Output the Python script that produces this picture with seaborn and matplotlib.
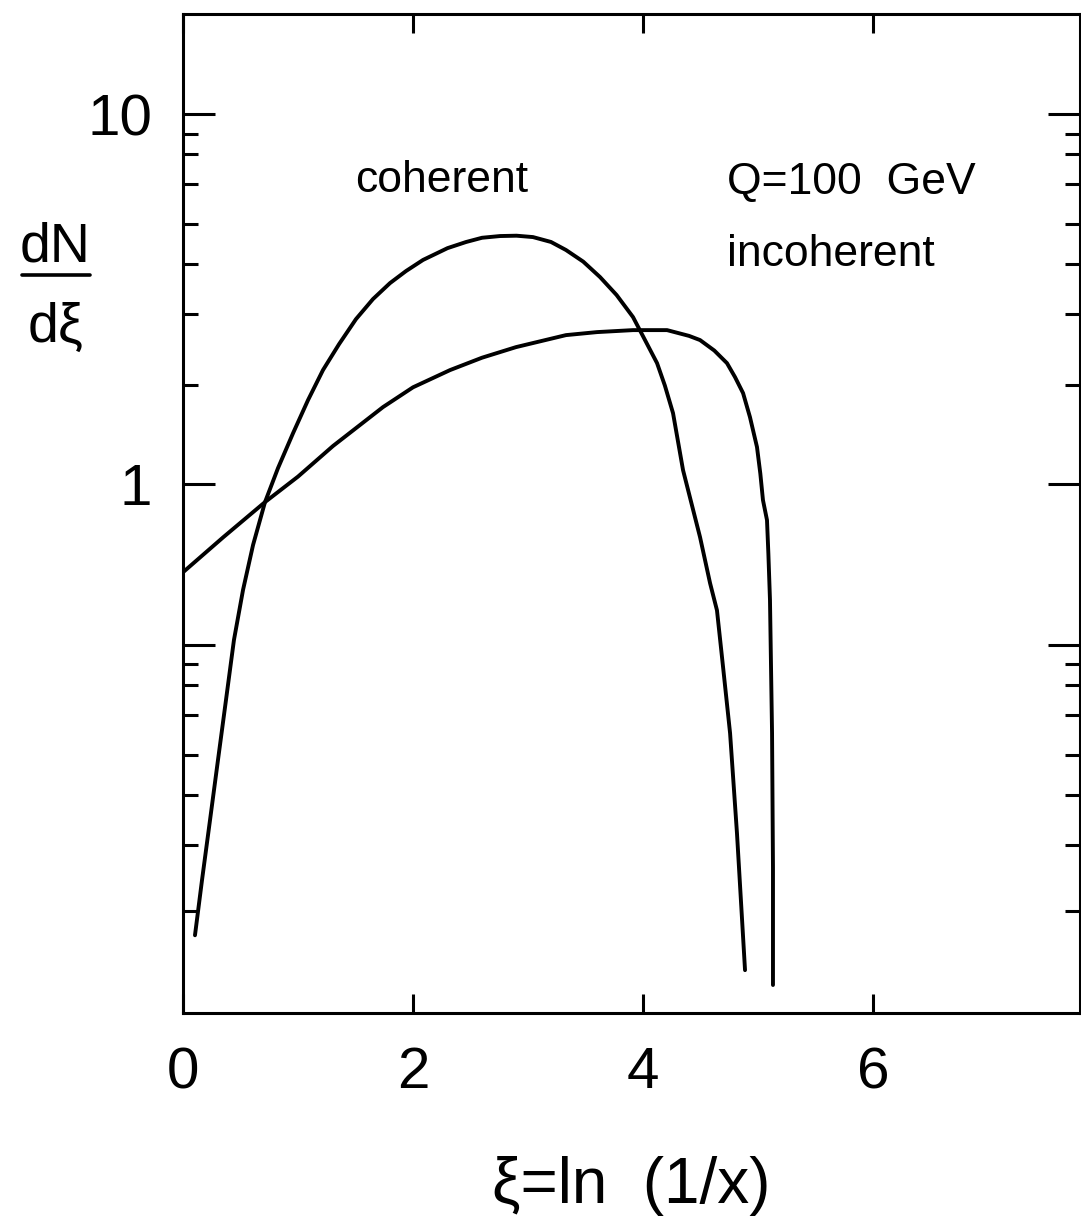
import numpy as np
import pandas as pd
import matplotlib
matplotlib.use("Agg")
import matplotlib.pyplot as plt
from matplotlib.lines import Line2D
import seaborn as sns

# coherent (hump) curve
coh_xi = [0.104, 0.165, 0.235, 0.304, 0.374, 0.443, 0.522, 0.609, 0.713, 0.826, 0.957,
          1.087, 1.217, 1.357, 1.504, 1.652, 1.800, 1.939, 2.087, 2.300, 2.461, 2.600,
          2.757, 2.900, 3.043, 3.200, 3.330, 3.480, 3.626, 3.770, 3.913, 4.122, 4.190,
          4.261, 4.348, 4.496, 4.583, 4.643, 4.696, 4.757, 4.817, 4.887]
coh_dn = [0.0605, 0.0852, 0.124, 0.180, 0.262, 0.380, 0.519, 0.686, 0.896, 1.107, 1.376,
          1.690, 2.037, 2.394, 2.797, 3.169, 3.500, 3.772, 4.042, 4.35, 4.519, 4.64,
          4.690, 4.70, 4.660, 4.52, 4.300, 4.00, 3.634, 3.25, 2.833, 2.127, 1.85,
          1.558, 1.093, 0.720, 0.541, 0.457, 0.321, 0.2127, 0.1141, 0.0487]

# incoherent (flat-top) curve
inc_xi = [0.0, 0.350, 0.713, 1.000, 1.304, 1.739, 2.000, 2.322, 2.600, 2.896, 3.330,
          3.600, 3.913, 4.209, 4.400, 4.496, 4.620, 4.730, 4.800, 4.870, 4.930, 4.991,
          5.020, 5.043, 5.078, 5.090, 5.104, 5.122, 5.130, 5.130]
inc_dn = [0.579, 0.72, 0.896, 1.05, 1.27, 1.618, 1.83, 2.037, 2.20, 2.350, 2.532,
          2.58, 2.612, 2.612, 2.52, 2.455, 2.30, 2.127, 1.95, 1.765, 1.52, 1.262,
          1.07, 0.907, 0.801, 0.65, 0.487, 0.2127, 0.0924, 0.0444]

x_ticks = [0, 2, 4, 6]
y_major = [10, 1, 0.369]
y_labels = ["10", "1", ""]
y_minor = [8.83, 7.80, 6.47, 5.04, 3.93, 2.88, 1.86,
           0.3265, 0.287, 0.2376, 0.1861, 0.1452, 0.1064, 0.0705]

sns.set_theme(style="ticks")
plt.rcParams["font.family"] = ["Liberation Sans", "DejaVu Sans"]
plt.rcParams["text.color"] = "black"
plt.rcParams["axes.labelcolor"] = "black"
plt.rcParams["xtick.color"] = "black"
plt.rcParams["ytick.color"] = "black"

fig = plt.figure(figsize=(10.81, 12.18), dpi=100)
ax = fig.add_axes([0.1693, 0.1683, 0.8298, 0.8202])

df_coh = pd.DataFrame({"xi": coh_xi, "dn": coh_dn})
df_inc = pd.DataFrame({"xi": inc_xi, "dn": inc_dn})
sns.lineplot(data=df_coh, x="xi", y="dn", ax=ax, color="black", linewidth=2.8,
             estimator=None, sort=False)
sns.lineplot(data=df_inc, x="xi", y="dn", ax=ax, color="black", linewidth=2.8,
             estimator=None, sort=False)

ax.set_yscale("log")
ax.set_xlim(0, 7.8)
ax.set_ylim(0.0373, 18.67)

ax.set_xticks(x_ticks)
ax.set_xticklabels([str(t) for t in x_ticks])
ax.set_yticks(y_major)
ax.set_yticklabels(y_labels)
ax.set_yticks(y_minor, minor=True)
ax.yaxis.set_minor_formatter(matplotlib.ticker.NullFormatter())
ax.xaxis.set_minor_locator(matplotlib.ticker.NullLocator())

for s in ax.spines.values():
    s.set_linewidth(2.2)
    s.set_color("black")

ax.tick_params(axis="x", which="major", direction="in", top=True, bottom=True,
               length=14, width=2.2, labelsize=42, pad=24, colors="black")
ax.tick_params(axis="y", which="major", direction="in", left=True, right=True,
               length=23, width=2.2, labelsize=42, pad=22, colors="black")
ax.tick_params(axis="y", which="minor", direction="in", left=True, right=True,
               length=11, width=2.2, colors="black")

ax.set_xlabel("ξ=ln  (1/x)", fontsize=46, labelpad=40, color="black")
ax.set_ylabel("")

ax.text(1.496, 6.64, "coherent", fontsize=32, va="center", ha="left", color="black")
ax.text(4.73, 6.56, "Q=100  GeV", fontsize=32, va="center", ha="left", color="black")
ax.text(4.73, 4.17, "incoherent", fontsize=32, va="center", ha="left", color="black")

# dN/dξ label as a stacked fraction
fig.text(0.0509, 0.7849, "dN", fontsize=40, ha="center", va="baseline", color="black")
fig.text(0.0509, 0.7192, "dξ", fontsize=40, ha="center", va="baseline", color="black")
fig.add_artist(Line2D([0.0204, 0.0833], [0.7742, 0.7742], color="black",
                      linewidth=2.6, transform=fig.transFigure))

fig.savefig("out.png", dpi=100, facecolor="white")
